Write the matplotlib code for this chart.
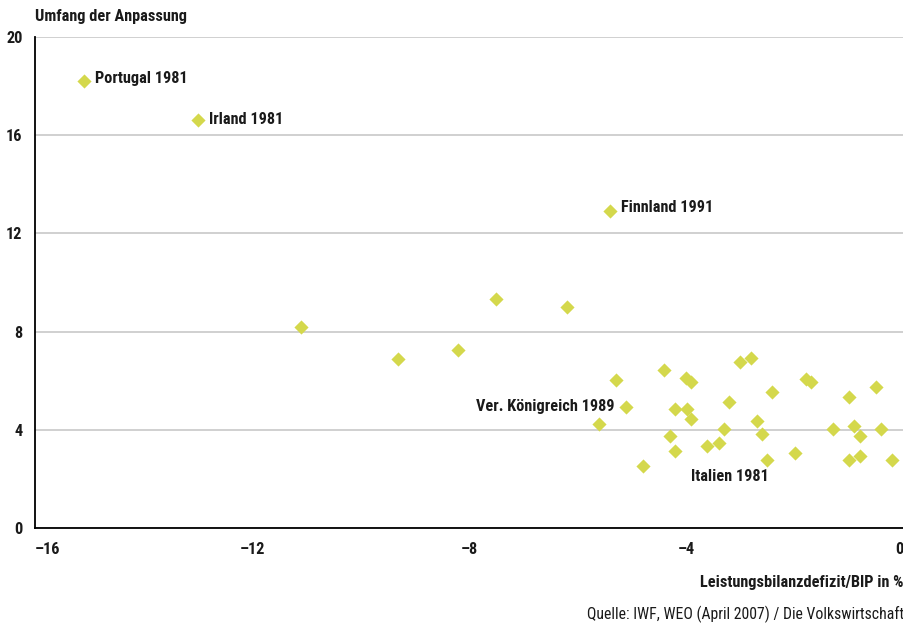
import matplotlib
matplotlib.use("Agg")
import matplotlib.pyplot as plt
from matplotlib import font_manager as fm

# Data: current account deficit / GDP (x) vs. size of adjustment (y)
defizit = [-15.1, -13.0, -5.41, -11.1, -9.32, -8.21, -7.51, -6.2,
           -5.12, -5.61, -5.30, -4.80, -4.42, -4.31, -4.21, -4.21,
           -4.01, -3.99, -3.92, -3.92, -3.62, -3.40, -3.31, -3.22,
           -3.02, -2.81, -2.70, -2.61, -2.52, -2.43, -2.0, -1.80,
           -1.71, -1.30, -1.01, -1.01, -0.92, -0.81, -0.81, -0.51,
           -0.42, -0.22]
anpassung = [18.2, 16.6, 12.9, 8.2, 6.9, 7.25, 9.33, 9.0,
             4.93, 4.24, 6.03, 2.53, 6.44, 3.75, 4.85, 3.14,
             6.11, 4.85, 5.95, 4.44, 3.34, 3.46, 4.03, 5.13,
             6.76, 6.92, 4.36, 3.83, 2.77, 5.54, 3.05, 6.07,
             5.95, 4.03, 5.34, 2.77, 4.15, 3.75, 2.93, 5.74,
             4.03, 2.77]

# Labelled cases: index into the arrays above, text, offset (pt), alignment
label_idx = [0, 1, 2, 8, 28]
label_txt = ["Portugal 1981", "Irland 1981", "Finnland 1991",
             "Ver. Königreich 1989", "Italien 1981"]
label_off = [(8, 2), (8, 1), (8, 3), (-8, 0), (1, -12)]
label_ha = ["left", "left", "left", "right", "right"]

xticks = [-16, -12, -8, -4, 0]
yticks = [0, 4, 8, 12, 16, 20]

# narrow sans if one is around, otherwise condensed DejaVu
have = {(f.name, f.stretch) for f in fm.fontManager.ttflist}
narrow = [n for n in ["Roboto Condensed", "Liberation Sans Narrow",
                      "Open Sans Condensed"] if any(h[0] == n for h in have)]
if narrow:
    plt.rcParams['font.family'] = [narrow[0], 'DejaVu Sans']
    fs = 11.7
else:
    plt.rcParams['font.family'] = ['DejaVu Sans']
    plt.rcParams['font.stretch'] = 'condensed'
    fs = 10.5
    if not any(h[0] == "DejaVu Sans" and h[1] != "normal" for h in have):
        fs = 9

ink = "#1a1a1a"
gelb = "#d4d84c"

fig = plt.figure(figsize=(9.04, 6.26), dpi=100)
ax = fig.add_axes([35 / 904, 98 / 626, 869 / 904, 491 / 626])

ax.scatter(defizit, anpassung, marker="D", s=52, color=gelb,
           linewidths=0, zorder=3)

for i, txt, off, ha in zip(label_idx, label_txt, label_off, label_ha):
    ax.annotate(txt, (defizit[i], anpassung[i]), xytext=off,
                textcoords="offset points", ha=ha, va="center",
                fontsize=fs, fontweight="bold", color=ink)

ax.set_xlim(-16, 0)
ax.set_ylim(0, 20)
ax.set_xticks(xticks)
ax.set_yticks(yticks)
ax.set_xticklabels(["\u2013" + str(abs(t)) if t < 0 else str(t) for t in xticks])
ax.set_yticklabels([str(t) for t in yticks])
ax.tick_params(length=0, labelsize=fs, labelcolor=ink)
ax.tick_params(axis="x", pad=10)
ax.tick_params(axis="y", pad=9)
for lab in ax.get_xticklabels() + ax.get_yticklabels():
    lab.set_fontweight("bold")
xl = ax.get_xticklabels()
xl[0].set_ha("left")
xl[-1].set_ha("right")

ax.grid(axis="y", color="#c8c8c8", linewidth=1.2)
ax.grid(axis="x", visible=False)
ax.set_axisbelow(True)
for side in ["top", "right"]:
    ax.spines[side].set_visible(False)
for side in ["left", "bottom"]:
    ax.spines[side].set_color("black")
    ax.spines[side].set_linewidth(1.3)
ax.spines["bottom"].set_zorder(4)

fig.text(35 / 904, 1 - 17 / 626, "Umfang der Anpassung", ha="left",
         va="center", fontsize=fs, fontweight="bold", color=ink)
fig.text(0.999, 1 - 583 / 626, "Leistungsbilanzdefizit/BIP in %", ha="right",
         va="center", fontsize=fs, fontweight="bold", color=ink)
fig.text(1.0, 1 - 614 / 626, "Quelle: IWF, WEO (April 2007) / Die Volkswirtschaft",
         ha="right", va="center", fontsize=fs - 0.4, color=ink)

fig.savefig("out.png", dpi=100)
